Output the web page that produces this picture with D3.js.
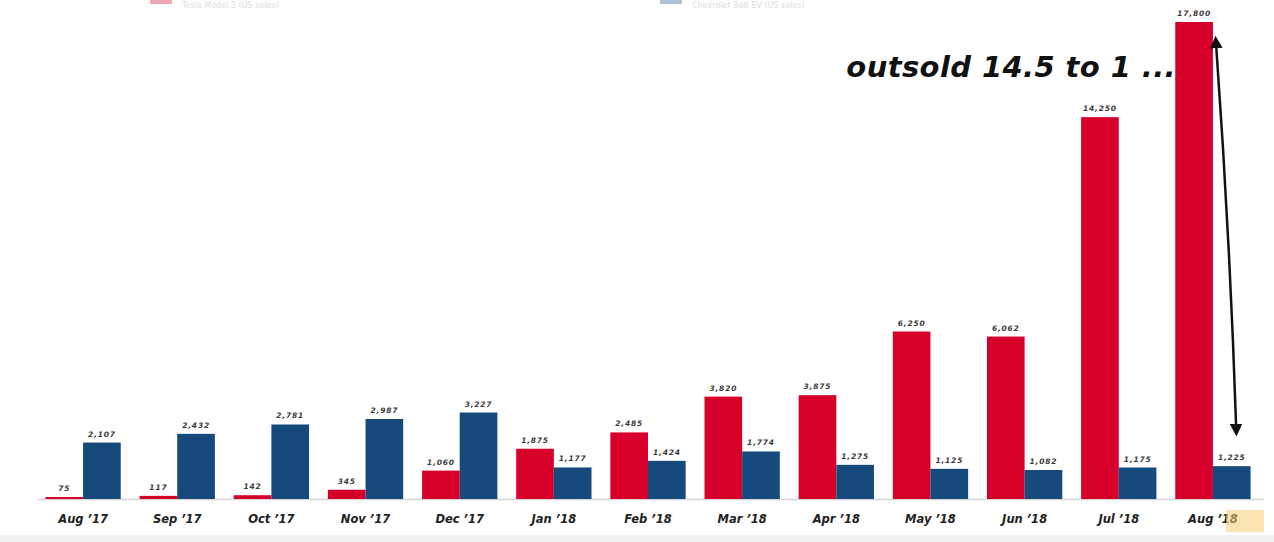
<!DOCTYPE html>
<html>
<head>
<meta charset="utf-8">
<script src="https://cdn.jsdelivr.net/npm/d3@7"></script>
<style>
  html, body { margin: 0; padding: 0; background: #fff; }
  svg { display: block; }
</style>
</head>
<body>
<svg id="chart" width="1274" height="542"></svg>
<script>
const months = ["Aug '17","Sep '17","Oct '17","Nov '17","Dec '17","Jan '18","Feb '18","Mar '18","Apr '18","May '18","Jun '18","Jul '18","Aug '18"];
const model3 = [75, 117, 142, 345, 1060, 1875, 2485, 3820, 3875, 6250, 6062, 14250, 17800];
const bolt   = [2107, 2432, 2781, 2987, 3227, 1177, 1424, 1774, 1275, 1125, 1082, 1175, 1225];
const seriesNames = ["Tesla Model 3", "Chevrolet Bolt EV"];
const seriesColors = ["#d6002b", "#164a7c"];
const annotation = "outsold 14.5 to 1 ...";

const svg = d3.select("#chart");
const W = 1274, H = 542;
const FONT = "'DejaVu Sans', Lato, sans-serif";

// faint bottom band
svg.append("rect").attr("x", 0).attr("y", 535).attr("width", W).attr("height", 7).attr("fill", "#f1f1f1");

const x = d3.scaleBand().domain(months).range([36, 1260]).paddingInner(0.2).paddingOuter(0.1);
const xs = d3.scaleBand().domain(seriesNames).range([0, x.bandwidth()]).padding(0);
const y = d3.scaleLinear().domain([0, 17800]).range([499, 22]);

const rows = months.map((m, i) => ({ month: m, values: [
  { s: seriesNames[0], v: model3[i], c: seriesColors[0] },
  { s: seriesNames[1], v: bolt[i], c: seriesColors[1] }
]}));

// baseline
svg.append("line").attr("x1", 38).attr("x2", 1264).attr("y1", y(0) + 0.5).attr("y2", y(0) + 0.5)
  .attr("stroke", "#d4d4d4").attr("stroke-width", 1.5);

const g = svg.append("g").selectAll("g").data(rows).join("g")
  .attr("transform", d => `translate(${x(d.month)},0)`);

g.selectAll("rect").data(d => d.values).join("rect")
  .attr("x", d => xs(d.s))
  .attr("y", d => y(d.v))
  .attr("width", xs.bandwidth())
  .attr("height", d => y(0) - y(d.v))
  .attr("fill", d => d.c);

const fmt = d3.format(",");
g.selectAll("text.val").data(d => d.values).join("text")
  .attr("class", "val")
  .attr("x", d => xs(d.s) + xs.bandwidth() / 2)
  .attr("y", d => y(d.v) - 6)
  .attr("text-anchor", "middle")
  .attr("font-family", FONT)
  .attr("font-weight", "bold")
  .attr("font-style", "italic")
  .attr("font-size", 7.5)
  .attr("letter-spacing", 0.8)
  .attr("fill", "#3a3a3a")
  .text(d => fmt(d.v));

// x axis labels
const xAxis = d3.axisBottom(x).tickSize(0).tickPadding(0);
const ax = svg.append("g").attr("transform", `translate(0,${y(0) + 16})`).call(xAxis);
ax.select(".domain").remove();
ax.selectAll("text")
  .text(d => d.replace("'", "\u2019"))
  .attr("font-family", FONT)
  .attr("font-weight", "bold")
  .attr("font-style", "italic")
  .attr("font-size", 11.5)
  .attr("fill", "#222");

// highlight box over last label (watermark-like)
svg.append("rect").attr("x", 1226).attr("y", 510).attr("width", 38).attr("height", 22)
  .attr("fill", "#f6cf73").attr("opacity", 0.55);

// legend (faint, at top edge)
const legX = [150, 660];
seriesNames.forEach((n, i) => {
  svg.append("rect").attr("x", legX[i]).attr("y", -10).attr("width", 22).attr("height", 14)
    .attr("fill", seriesColors[i]).attr("opacity", 0.35);
  svg.append("text").attr("x", legX[i] + 32).attr("y", 8)
    .attr("font-family", FONT).attr("font-size", 8)
    .attr("fill", "#dddddd").text(n + " (US sales)");
});

// annotation
svg.append("text").attr("x", 1176).attr("y", 77).attr("text-anchor", "end")
  .attr("font-family", FONT)
  .attr("font-weight", "bold").attr("font-style", "italic").attr("font-size", 29)
  .attr("letter-spacing", 0.4)
  .attr("fill", "#111").text(annotation);

// double-headed arrow
const defs = svg.append("defs");
["start", "end"].forEach(k => {
  defs.append("marker").attr("id", "ah-" + k).attr("viewBox", "0 0 10 10")
    .attr("refX", 5).attr("refY", 5).attr("markerWidth", 5).attr("markerHeight", 5)
    .attr("orient", k === "start" ? "auto-start-reverse" : "auto")
    .append("path").attr("d", "M0,0 L10,5 L0,10 z").attr("fill", "#111");
});
const last = months[months.length - 1];
const ax0 = x(last) + xs(seriesNames[1]) + 3;
const ay0 = y(model3[model3.length - 1]) + 20;
const ax1 = x(last) + xs(seriesNames[1]) + xs.bandwidth() * 0.62;
const ay1 = y(bolt[bolt.length - 1]) - 36;
svg.append("path")
  .attr("d", `M${ax0},${ay0} Q${ax0 + 14},${(ay0 + ay1) / 2} ${ax1},${ay1}`)
  .attr("fill", "none").attr("stroke", "#111").attr("stroke-width", 2.5)
  .attr("marker-start", "url(#ah-start)").attr("marker-end", "url(#ah-end)");
</script>
</body>
</html>
